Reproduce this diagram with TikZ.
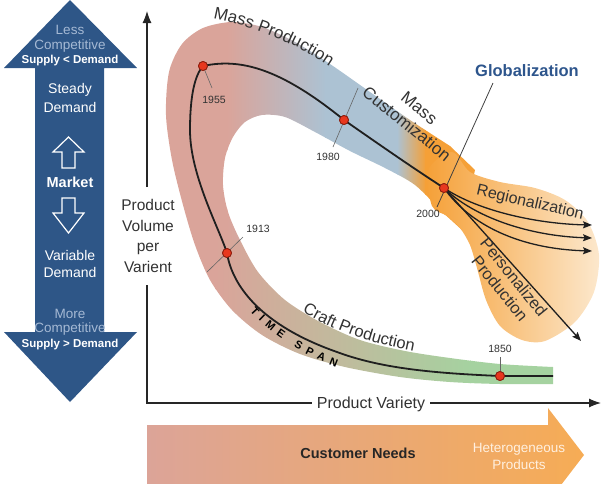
\documentclass[tikz,border=0pt]{standalone}
\usepackage{fontspec}
\setmainfont{Liberation Sans}
\usetikzlibrary{arrows.meta,decorations.text}
\definecolor{navy}{RGB}{46,86,135}
\definecolor{navylight}{RGB}{165,185,212}
\definecolor{bpink}{RGB}{218,164,154}
\definecolor{bblue}{RGB}{172,194,211}
\definecolor{borange}{RGB}{245,160,55}
\definecolor{bpale}{RGB}{252,232,205}
\definecolor{bgreen}{RGB}{165,210,160}
\definecolor{txt}{RGB}{50,50,50}
\definecolor{globblue}{RGB}{45,85,140}
\definecolor{dotred}{RGB}{232,55,30}
\definecolor{dotedge}{RGB}{140,30,15}
\definecolor{npink}{RGB}{220,164,152}
\definecolor{norange}{RGB}{246,172,85}
\newcommand\fsz[2]{\fontsize{#1}{#2}\selectfont}
\tikzset{
  lbl/.style={text=txt, inner sep=0pt},
  year/.style={font=\fsz{10.5}{12}, text=txt, inner sep=0pt},
  dot/.style={circle, fill=dotred, draw=dotedge, line width=0.8pt, minimum size=9pt, inner sep=0pt},
  tickline/.style={draw=black!60, line width=0.6pt},
  mainline/.style={draw=black!88, line width=1.8pt},
  fan/.style={draw=black!88, line width=1.3pt, -{Stealth[length=9pt,width=7pt,inset=1.5pt]}},
  axis/.style={draw=black!85, line width=1.1pt},
  wtxt/.style={text=white, inner sep=0pt},
  ltxt/.style={text=navylight, inner sep=0pt, font=\fsz{13.5}{15}},
}
\begin{document}
\begin{tikzpicture}[x=1pt,y=-1pt]
\path[use as bounding box] (0,0) rectangle (602,483);
\clip (0,0) rectangle (602,483);

% ---------- left market arrow ----------
\fill[navy] (70,0) -- (137,68) -- (104,68) -- (104,332) -- (137,332) -- (70,402)
  -- (4,332) -- (35,332) -- (35,68) -- (4,68) -- cycle;
\node[ltxt] (less) at (70,30) {Less};
\node[ltxt] (comp1) at (70,46) {Competitive};
\node[wtxt, font=\bfseries\fsz{11.5}{13}] (sd1) at (70,61) {Supply < Demand};
\node[wtxt, font=\fsz{14}{16}] (steady) at (70,90) {Steady};
\node[wtxt, font=\fsz{14}{16}] (dem1) at (70,107) {Demand};
\draw[white, line width=1.2pt, line join=miter] (62,168) -- (62,152) -- (53,152) -- (68.5,137) -- (84,152) -- (75,152) -- (75,168) -- cycle;
\node[wtxt, font=\bfseries\fsz{14.5}{16}] (market) at (70,182) {Market};
\draw[white, line width=1.2pt, line join=miter] (62,198) -- (62,213) -- (53,213) -- (68.5,233) -- (84,213) -- (75,213) -- (75,198) -- cycle;
\node[wtxt, font=\fsz{14}{16}] (var) at (70,255) {Variable};
\node[wtxt, font=\fsz{14}{16}] (dem2) at (70,272) {Demand};
\node[ltxt] (more) at (70,314) {More};
\node[ltxt] (comp2) at (70,329) {Competitive};
\node[wtxt, font=\bfseries\fsz{11.5}{13}] (sd2) at (70,345) {Supply > Demand};

% ---------- bottom customer needs arrow ----------
\shade[left color=npink, right color=norange] (147,425) -- (548,425) -- (548,408) -- (584,455)
  -- (548,502) -- (548,490) -- (147,490) -- cycle;
\node[font=\bfseries\fsz{14.5}{16}, text=black!85, inner sep=0pt] (cn) at (358,453) {Customer Needs};
\node[align=center, font=\fsz{13.5}{17}, text=white!88!orange, inner sep=0pt] (hp) at (519,456) {Heterogeneous\\Products};

% ---------- band ----------
\begin{scope}
\clip (553,384) -- plot[smooth] coordinates {(553,384) (500,384) (450,382) (400,377) (345,367)
  (300,354) (262,335) (232,310) (210,280) (195,245) (183,205) (172,160) (166,115) (169,72)
  (182,44) (203,28) (232,22) (262,27) (295,42) (330,64) (370,92) (410,120) (450,146)}
  -- (475,170) -- (462,230)
  -- plot[smooth] coordinates {(440,210) (415,185) (385,168) (350,151) (315,132) (285,117)
  (262,115) (245,122) (233,137) (225,158) (223,185) (228,212) (240,240) (258,272) (285,300)
  (320,322) (360,340) (405,351) (450,358) (500,364) (553,367)} -- cycle;
\fill[bpink] (150,0) rectangle (228,240);
\shade[left color=bpink, right color=bblue] (227,0) rectangle (326,240);
\fill[bblue] (325,0) rectangle (398,240);
\shade[left color=bblue, right color=borange] (397,0) rectangle (426,240);
\fill[borange] (425,0) rectangle (480,240);
\fill[bpink] (150,240) rectangle (216,400);
\shade[left color=bpink, right color=bgreen] (215,240) rectangle (471,400);
\fill[bgreen] (470,240) rectangle (560,400);
\end{scope}
\shade[left color=borange, right color=bpale] plot[smooth cycle] coordinates {(428,170) (452,152)
  (470,172) (500,182) (535,188) (565,200) (588,222) (599,255) (594,292) (575,322) (545,341)
  (522,340) (500,326) (486,300) (477,268) (470,245) (460,228) (447,216) (432,206)};

% ---------- axes ----------
\coordinate (orig) at (147,403);
\coordinate (ygap1) at (147,285);
\coordinate (ygap2) at (147,187);
\coordinate (ytop) at (147,11);
\coordinate (xgap1) at (312,403);
\coordinate (xgap2) at (430,403);
\coordinate (xend) at (601,403);
\draw[axis] (ygap1) -- (orig) -- (xgap1);
\draw[axis, -{Latex[length=12pt,width=9pt]}] (ygap2) -- (ytop);
\draw[axis, -{Latex[length=12pt,width=9pt]}] (xgap2) -- (xend);
\node[align=center, font=\fsz{15.5}{20.5}, text=txt, inner sep=0pt] (yl) at (148,236) {Product\\Volume\\per\\Varient};
\node[font=\fsz{16}{18}, text=txt, inner sep=0pt] (xl) at (371,404) {Product Variety};

% ---------- points ----------
\node[dot] (p1850) at (500,376) {};
\node[dot] (p1913) at (227,253) {};
\node[dot] (p1955) at (203,66) {};
\node[dot] (p1980) at (344,120) {};
\node[dot] (p2000) at (444,188) {};
\coordinate (lend) at (553,376);
\coordinate (r1) at (592,225);
\coordinate (r2) at (592,238);
\coordinate (r3) at (592,251);
\coordinate (pend) at (581,341);
\coordinate (gtop) at (493,83);
\coordinate (gbot) at (437,207);

% ticks
\draw[tickline] (p1955.center) -- (212,88);
\draw[tickline] (358,88) -- (333,147);
\draw[tickline] (243,237) -- (207,272);
\draw[tickline] (500,357) -- (p1850.center);
\draw[draw=black!75, line width=0.8pt] (gtop) -- (gbot);

% main line
\draw[mainline] (lend) -- (p1850.center) .. controls (430,373) and (380,368) .. (337,352)
  .. controls (260,325) and (232,285) .. (p1913.center)
  .. controls (219,228) and (190,175) .. (190,130)
  .. controls (190,95) and (195,75) .. (p1955.center)
  .. controls (240,58) and (280,68) .. (p1980.center)
  .. controls (380,145) and (410,166) .. (p2000.center);
\draw[fan] (p2000.center) .. controls (480,212) and (540,224) .. (r1);
\draw[fan] (p2000.center) .. controls (475,218) and (530,236) .. (r2);
\draw[fan] (p2000.center) .. controls (470,225) and (520,249) .. (r3);
\draw[fan] (p2000.center) -- (pend);

\node[dot] at (p1850) {};
\node[dot] at (p1913) {};
\node[dot] at (p1955) {};
\node[dot] at (p1980) {};
\node[dot] at (p2000) {};

% year labels
\node[year] (y1955) at (214,100) {1955};
\node[year] (y1980) at (328,157) {1980};
\node[year] (y2000) at (428,214) {2000};
\node[year] (y1913) at (258,229) {1913};
\node[year] (y1850) at (500,349) {1850};

% curved labels
\path[decorate, decoration={text along path, text align=center,
  text={|\color{txt}\fsz{17}{20}|Mass Production}}] (210,18) .. controls (245,24) and (295,42) .. (332,68);
\path[decorate, decoration={text along path, text align=center,
  text={|\color{txt}\fsz{16.5}{20}|Craft Production}}] (300,310) .. controls (330,330) and (370,343) .. (416,352);
\path[decorate, decoration={text along path, text align=fit to path,
  text={|\color{black}\bfseries\fsz{11}{12}|TIME SPAN}}] (250,311) .. controls (272,336) and (300,353) .. (336,367);

\node[lbl, rotate=-39, align=center, font=\fsz{17}{20}] (mc) at (413,116) {Mass\\Customization};
\node[lbl, rotate=-13, font=\fsz{16}{18}] (reg) at (530,203) {Regionalization};
\node[lbl, rotate=-51, align=center, font=\fsz{16.5}{18}] (pp) at (507,283) {Personalized\\Production};
\node[font=\bfseries\fsz{16.5}{18}, text=globblue, inner sep=0pt] (glob) at (527,71) {Globalization};
\end{tikzpicture}
\end{document}
